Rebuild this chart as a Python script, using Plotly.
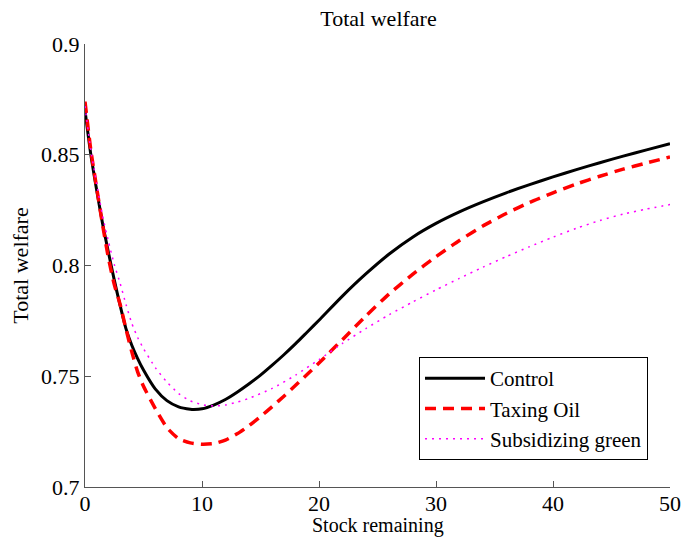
import plotly.graph_objects as go

# Stock remaining (x) and total welfare for each policy
control_x = [0, 0.5, 1, 1.5, 2, 2.5, 3, 3.5, 4, 4.5, 5, 6, 7, 8, 9, 9.3, 10, 11, 12, 13, 14, 15, 16,
             17, 18, 19, 20, 22, 24, 26, 28, 30, 32, 34, 36, 38, 40, 42, 44, 46, 48, 50]
control_y = [0.870, 0.850, 0.834, 0.819, 0.806, 0.7935, 0.782, 0.7715, 0.7640, 0.7580, 0.7528,
             0.7443, 0.7390, 0.7362, 0.7351, 0.7350, 0.7353, 0.7370, 0.7395, 0.7428, 0.7465,
             0.7505, 0.7550, 0.7597, 0.7647, 0.7700, 0.7753, 0.7862, 0.7962, 0.8052, 0.8128,
             0.8190, 0.8242, 0.8287, 0.8328, 0.8365, 0.8400, 0.8433, 0.8464, 0.8494, 0.8522,
             0.855]

tax_x = [0, 0.5, 1, 1.5, 2, 2.5, 3, 3.5, 4, 4.5, 5, 6, 7, 8, 9, 10, 11, 12, 13, 14, 15, 16, 17, 18,
         19, 20, 22, 24, 26, 28, 30, 32, 34, 36, 38, 40, 42, 44, 46, 48, 50]
tax_y = [0.874, 0.852, 0.835, 0.8185, 0.8035, 0.7915, 0.7825, 0.7714, 0.7610, 0.7520, 0.7455,
         0.7355, 0.7268, 0.7218, 0.7199, 0.7193, 0.7196, 0.7212, 0.7240, 0.7276, 0.7318, 0.7363,
         0.7410, 0.7459, 0.7509, 0.7560, 0.7665, 0.7772, 0.7872, 0.7960, 0.8040, 0.8113,
         0.8178, 0.8235, 0.8285, 0.8328, 0.8368, 0.8403, 0.8435, 0.8463, 0.849]

subsidy_x = [0, 0.5, 1, 1.5, 2, 2.5, 3, 3.5, 4, 4.5, 5, 6, 7, 8, 9, 10, 11, 12, 13, 14, 16, 18, 20,
             22, 24, 26, 28, 30, 32, 34, 36, 38, 40, 42, 44, 46, 48, 50]
subsidy_y = [0.872, 0.852, 0.837, 0.8225, 0.811, 0.8005, 0.792, 0.7825, 0.7739, 0.7675, 0.7625,
             0.7540, 0.7474, 0.7422, 0.7389, 0.7372, 0.7366, 0.7370, 0.7383, 0.7400, 0.7445,
             0.7505, 0.7575, 0.7648, 0.7715, 0.7778, 0.7835, 0.7890, 0.7942, 0.7992, 0.8040,
             0.8085, 0.8128, 0.8168, 0.8203, 0.8232, 0.8255, 0.8275]

series_names = ["Control", "Taxing Oil", "Subsidizing green"]

x_ticks = [0, 10, 20, 30, 40, 50]
y_ticks = [0.7, 0.75, 0.8, 0.85, 0.9]
y_tick_text = ["0.7", "0.75", "0.8", "0.85", "0.9"]

FONT = "Liberation Serif, Times New Roman, serif"

fig = go.Figure()
fig.add_trace(go.Scatter(x=control_x, y=control_y, mode="lines", name=series_names[0],
                         line=dict(color="#000000", width=3, shape="spline", smoothing=0.6)))
fig.add_trace(go.Scatter(x=tax_x, y=tax_y, mode="lines", name=series_names[1],
                         line=dict(color="#ff0000", width=3.5, dash="11px,7px",
                                   shape="spline", smoothing=0.6)))
fig.add_trace(go.Scatter(x=subsidy_x, y=subsidy_y, mode="lines", name=series_names[2],
                         line=dict(color="#ff00ff", width=1.5, dash="2px,5px",
                                   shape="spline", smoothing=0.6)))

axis_common = dict(
    showgrid=False, zeroline=False, showline=True, linecolor="#555555", linewidth=1,
    ticks="inside", ticklen=6, tickcolor="#555555", tickwidth=1, automargin=False,
    tickfont=dict(family=FONT, size=22, color="#000000"), mirror=False,
)

fig.update_layout(
    width=684, height=538,
    margin=dict(l=85, r=14, t=44, b=51),
    paper_bgcolor="#ffffff", plot_bgcolor="#ffffff",
    font=dict(family=FONT, color="#000000"),
    title=dict(text="Total welfare", x=0.5534, xanchor="center", y=0.966, yanchor="middle",
               font=dict(family=FONT, size=22, color="#000000")),
    xaxis=dict(range=[0, 50], tickvals=x_ticks, ticktext=[str(v) for v in x_ticks],
               ticklabelstandoff=-3, **axis_common),
    yaxis=dict(range=[0.7, 0.9], tickvals=y_ticks, ticktext=y_tick_text,
               title=dict(text="Total welfare", font=dict(family=FONT, size=22), standoff=6),
               **axis_common),
    legend=dict(x=0.9624, xanchor="right", y=0.061, yanchor="bottom",
                bgcolor="#ffffff", bordercolor="#000000", borderwidth=1,
                font=dict(family=FONT, size=21, color="#000000"),
                tracegroupgap=0, itemwidth=60),
    showlegend=True,
)

# x-axis label placed in the strip below the tick labels, flush with the bottom edge
fig.add_annotation(text="Stock remaining", xref="paper", yref="paper", x=0.5, y=-0.1151,
                   xanchor="center", yanchor="bottom", showarrow=False, borderpad=0,
                   font=dict(family=FONT, size=20, color="#000000"))

fig.write_html("out.html")
